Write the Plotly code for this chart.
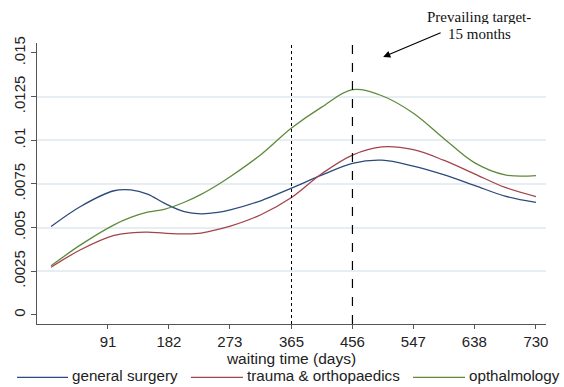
import plotly.graph_objects as go

# ---- data ----
days = [6, 50, 100, 125, 150, 175, 205, 230, 255, 275, 320, 365, 410, 456, 500, 547, 592, 638, 684, 730]
general_surgery = [0.00506, 0.00621, 0.00711, 0.00716, 0.00692, 0.00640, 0.00591, 0.00579, 0.00587, 0.00603,
                   0.00655, 0.00726, 0.00800, 0.00868, 0.00886, 0.00852, 0.00803, 0.00742, 0.00680, 0.00644]
trauma_orthopaedics = [0.00273, 0.00373, 0.00455, 0.00470, 0.00474, 0.00468, 0.00464, 0.00468, 0.00490, 0.00510,
                       0.00575, 0.00672, 0.00808, 0.00915, 0.00962, 0.00946, 0.00886, 0.00808, 0.00730, 0.00678]
opthalmology = [0.00281, 0.00401, 0.00516, 0.00558, 0.00588, 0.00605, 0.00645, 0.00690, 0.00745, 0.00795,
                0.00920, 0.01070, 0.01190, 0.01290, 0.01255, 0.01155, 0.01012, 0.00872, 0.00802, 0.00798]

series_names = ["general surgery", "trauma & orthopaedics", "opthalmology"]
x_ticks = [91, 182, 273, 365, 456, 547, 638, 730]
y_ticks = [0, 0.0025, 0.005, 0.0075, 0.01, 0.0125, 0.015]
y_ticklabels = ["0", ".0025", ".005", ".0075", ".01", ".0125", ".015"]
grid_vals = [0.0025, 0.005, 0.0075, 0.01, 0.0125]
ref_days = {"dotted": 365, "dashed": 456}

colors = ["#2c4a7c", "#a3444c", "#5e8a3c"]

fig = go.Figure()
for name, vals, c in zip(series_names, [general_surgery, trauma_orthopaedics, opthalmology], colors):
    fig.add_trace(go.Scatter(x=days, y=vals, mode="lines", name=name, showlegend=False,
                             line=dict(color=c, width=1.3, shape="spline", smoothing=1.0)))

fig.add_vline(x=ref_days["dotted"], line=dict(color="black", width=1, dash="dot"))
fig.add_vline(x=ref_days["dashed"], line=dict(color="black", width=1.2, dash="dash"))

serif = dict(family="Liberation Serif", size=15, color="#111")
fig.add_annotation(xref="paper", yref="paper", x=0.868, y=1.093, text="Prevailing target-",
                   xanchor="center", yanchor="middle", showarrow=False, font=serif,
                   height=14, borderpad=0)
fig.add_annotation(xref="paper", yref="paper", x=0.870, y=1.032, text="15 months",
                   xanchor="center", yanchor="middle", showarrow=False, font=serif,
                   height=14, borderpad=0)
fig.add_annotation(xref="paper", yref="paper", x=0.680, y=0.950, text="", showarrow=True,
                   ax=59, ay=-25, arrowhead=2, arrowsize=1.2, arrowwidth=1.2, arrowcolor="black")

# legend (drawn below the axis title)
leg_line_x = [(-0.0393, 0.0609), (0.3025, 0.4047), (0.7387, 0.8409)]
leg_text_x = [0.0650, 0.4090, 0.8450]
leg_y = -0.190
for (x0, x1), tx, name, c in zip(leg_line_x, leg_text_x, series_names, colors):
    fig.add_shape(type="line", xref="paper", yref="paper", x0=x0, x1=x1, y0=leg_y, y1=leg_y,
                  line=dict(color=c, width=1.3))
    fig.add_annotation(xref="paper", yref="paper", x=tx, y=leg_y + 0.005, text=name,
                       xanchor="left", yanchor="middle", showarrow=False,
                       font=dict(size=15.2, color="#222"))

fig.update_layout(
    width=564, height=387,
    margin=dict(l=37, r=18, t=43, b=63, autoexpand=False),
    paper_bgcolor="white", plot_bgcolor="white",
    font=dict(family="Liberation Sans, Arial", size=15, color="#222"),
    showlegend=False,
    xaxis=dict(range=[-15, 745], tickvals=x_ticks, showgrid=False, zeroline=False,
               showline=True, linecolor="#555", linewidth=1.3, ticks="outside", ticklen=4,
               tickcolor="#555", tickfont=dict(size=15),
               title=dict(text="waiting time (days)", standoff=0, font=dict(size=15.5))),
    yaxis=dict(range=[-0.00052, 0.01557], tickvals=y_ticks, ticktext=y_ticklabels,
               tickangle=-90, showgrid=False, zeroline=False,
               showline=True, linecolor="#555", linewidth=1.3, ticks="outside", ticklen=5,
               tickcolor="#555", tickfont=dict(size=15),
               minor=dict(tickvals=grid_vals, showgrid=True, gridcolor="#e6edf3", gridwidth=1.5, ticks="")),
)

fig.write_html("out.html", config={"displayModeBar": False},
               post_script="document.body.style.margin='0';document.body.style.overflow='hidden';")
